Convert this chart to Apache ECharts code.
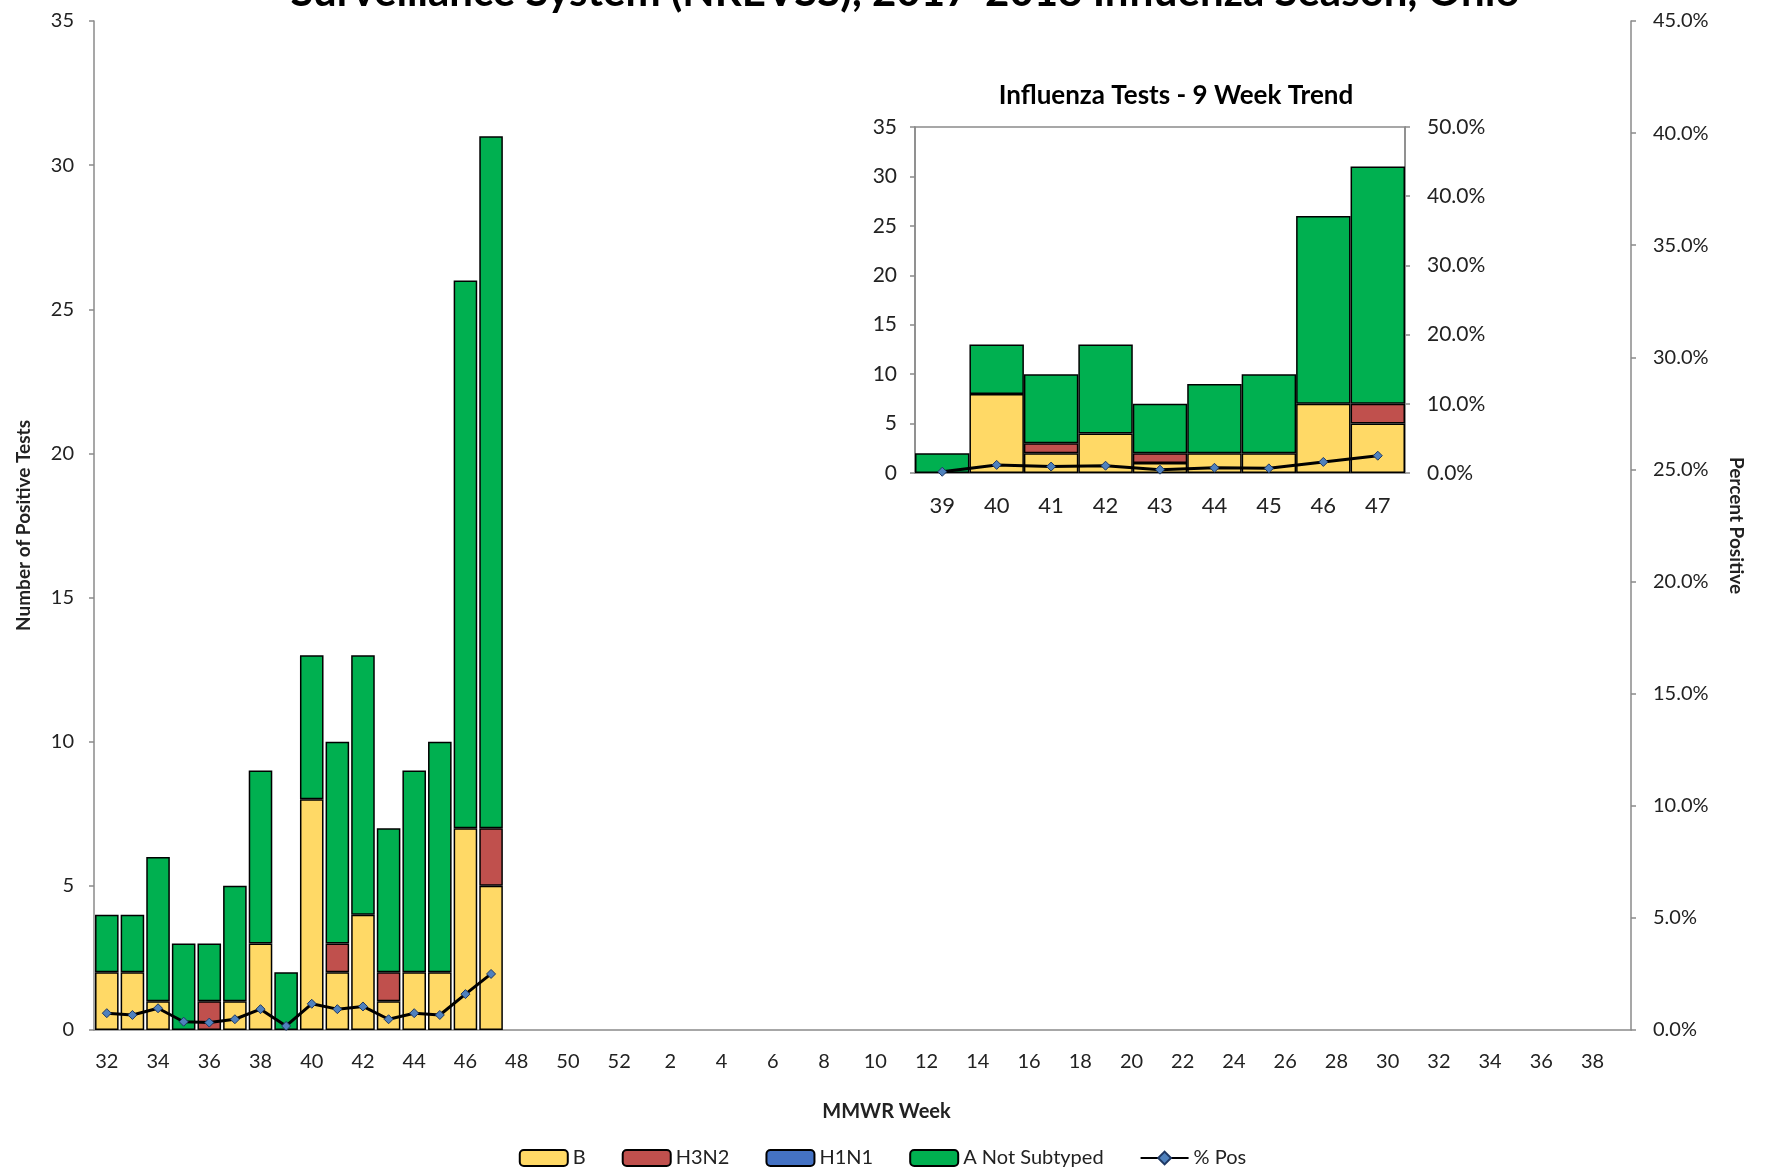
<!DOCTYPE html>
<html>
<head>
<meta charset="utf-8">
<script src="https://cdn.jsdelivr.net/npm/echarts@6/dist/echarts.min.js"></script>
<style>
  html, body { margin: 0; padding: 0; background: #fff; }
  #chart { width: 1765px; height: 1175px; }
</style>
</head>
<body>
<div id="chart"></div>
<script>
// MMWR weeks of the 2017-2018 season
const weeks = ['32','33','34','35','36','37','38','39','40','41','42','43','44','45','46','47','48','49','50','51','52',
  '1','2','3','4','5','6','7','8','9','10','11','12','13','14','15','16','17','18','19','20',
  '21','22','23','24','25','26','27','28','29','30','31','32','33','34','35','36','37','38','39'];

// counts reported so far (weeks 32..47)
const bCounts    = [2, 2, 1, 0, 0, 1, 3, 0, 8, 2, 4, 1, 2, 2, 7, 5];
const h3n2Counts = [0, 0, 0, 0, 1, 0, 0, 0, 0, 1, 0, 1, 0, 0, 0, 2];
const h1n1Counts = [0, 0, 0, 0, 0, 0, 0, 0, 0, 0, 0, 0, 0, 0, 0, 0];
const notSubtyped = [2, 2, 5, 3, 2, 4, 6, 2, 5, 7, 9, 5, 7, 8, 19, 24];
const pctPos     = [0.75, 0.67, 0.97, 0.37, 0.33, 0.48, 0.93, 0.18, 1.17, 0.93, 1.05, 0.48, 0.75, 0.67, 1.6, 2.5];

// 9 week trend = last nine reported weeks
const trendStart = 7;
const trendWeeks = weeks.slice(trendStart, 16);

const colors = { b: '#FFD966', h3n2: '#C0504D', h1n1: '#4472C4', ans: '#00B050' };
const font = 'Lato, "Open Sans", sans-serif';
const axisGray = '#8a8a8a';

// zeros are left out so no empty outline is drawn
function barData(arr, from, to) {
  const out = [];
  for (let i = from; i < to; i++) {
    const v = arr[i];
    out.push(v === undefined || v === 0 ? null : v);
  }
  return out;
}
function lineData(arr, from, to) {
  const out = [];
  for (let i = from; i < to; i++) out.push(arr[i] === undefined ? null : arr[i]);
  return out;
}

const chart = echarts.init(document.getElementById('chart'));

const barStyle = c => ({ color: c, borderColor: '#000', borderWidth: 1.5 });
const lineStyle = { color: '#000', width: 3 };
const markerStyle = { color: '#4F81BD', borderColor: '#1F3864', borderWidth: 1 };

function stackSeries(xi, yi, from, to, stack, gap) {
  return [
    { name: 'B', data: barData(bCounts, from, to), c: colors.b },
    { name: 'H3N2', data: barData(h3n2Counts, from, to), c: colors.h3n2 },
    { name: 'H1N1', data: barData(h1n1Counts, from, to), c: colors.h1n1 },
    { name: 'A Not Subtyped', data: barData(notSubtyped, from, to), c: colors.ans }
  ].map(s => ({
    name: s.name,
    type: 'bar',
    stack: stack,
    xAxisIndex: xi,
    yAxisIndex: yi,
    barCategoryGap: gap,
    itemStyle: barStyle(s.c),
    data: s.data
  }));
}

const n = weeks.length;

chart.setOption({
  animation: false,
  textStyle: { fontFamily: font },
  graphic: [
    {
      type: 'text',
      x: 905, y: 13,
      style: {
        text: 'Surveillance System (NREVSS), 2017-2018 Influenza Season, Ohio',
        font: 'bold 42px ' + font,
        fill: '#000',
        align: 'center',
        verticalAlign: 'bottom'
      }
    },
    {
      type: 'text',
      x: 1176, y: 96,
      style: {
        text: 'Influenza Tests - 9 Week Trend',
        font: 'bold 26px ' + font,
        fill: '#000',
        align: 'center',
        verticalAlign: 'middle'
      }
    }
  ],
  legend: {
    bottom: 2,
    left: 'center',
    itemWidth: 48,
    itemHeight: 16,
    itemGap: 36,
    textStyle: { fontSize: 20, color: '#222', fontFamily: font },
    data: ['B', 'H3N2', 'H1N1', 'A Not Subtyped', '% Pos']
  },
  grid: [
    { left: 94, right: 134, top: 21, bottom: 145 },
    { left: 915, top: 127, width: 490, height: 346, show: true, borderColor: axisGray, borderWidth: 1.5 }
  ],
  xAxis: [
    {
      type: 'category',
      gridIndex: 0,
      data: weeks,
      name: 'MMWR Week',
      nameLocation: 'middle',
      nameGap: 72,
      nameTextStyle: { fontSize: 20, fontWeight: 'bold', color: '#222', padding: [0, 0, 0, 48] },
      axisLine: { lineStyle: { color: axisGray, width: 1.5 } },
      axisTick: { interval: 0, length: 8, lineStyle: { color: axisGray, width: 1.5 } },
      axisLabel: { interval: 1, fontSize: 20, color: '#222', margin: 22 }
    },
    {
      type: 'category',
      gridIndex: 1,
      data: trendWeeks,
      axisLine: { lineStyle: { color: axisGray, width: 1.5 } },
      axisTick: { interval: 0, length: 8, lineStyle: { color: axisGray, width: 1.5 } },
      axisLabel: { interval: 0, fontSize: 22, color: '#222', margin: 22 }
    }
  ],
  yAxis: [
    {
      type: 'value',
      gridIndex: 0,
      min: 0, max: 35, interval: 5,
      name: 'Number of Positive Tests',
      nameLocation: 'middle',
      nameRotate: 90,
      nameGap: 61,
      nameTextStyle: { fontSize: 19, fontWeight: 'bold', color: '#222' },
      axisLine: { show: true, lineStyle: { color: axisGray, width: 1.5 } },
      axisTick: { show: true, length: 5, lineStyle: { color: axisGray, width: 1.5 } },
      axisLabel: { fontSize: 20, color: '#222', margin: 20 },
      splitLine: { show: false }
    },
    {
      type: 'value',
      gridIndex: 0,
      position: 'right',
      min: 0, max: 45, interval: 5,
      name: 'Percent Positive',
      nameLocation: 'middle',
      nameRotate: -90,
      nameGap: 96,
      nameTextStyle: { fontSize: 19, fontWeight: 'bold', color: '#222' },
      axisLine: { show: true, lineStyle: { color: axisGray, width: 1.5 } },
      axisTick: { show: true, length: 5, lineStyle: { color: axisGray, width: 1.5 } },
      axisLabel: { fontSize: 20, color: '#222', margin: 22, formatter: v => v.toFixed(1) + '%' },
      splitLine: { show: false }
    },
    {
      type: 'value',
      gridIndex: 1,
      min: 0, max: 35, interval: 5,
      axisLine: { show: true, lineStyle: { color: axisGray, width: 1.5 } },
      axisTick: { show: true, length: 5, lineStyle: { color: axisGray, width: 1.5 } },
      axisLabel: { fontSize: 21, color: '#222', margin: 18 },
      splitLine: { show: false }
    },
    {
      type: 'value',
      gridIndex: 1,
      position: 'right',
      min: 0, max: 50, interval: 10,
      axisLine: { show: true, lineStyle: { color: axisGray, width: 1.5 } },
      axisTick: { show: true, length: 5, lineStyle: { color: axisGray, width: 1.5 } },
      axisLabel: { fontSize: 21, color: '#222', margin: 22, formatter: v => v.toFixed(1) + '%' },
      splitLine: { show: false }
    }
  ],
  series: [
    ...stackSeries(0, 0, 0, n, 'main', '8%'),
    {
      name: '% Pos',
      type: 'line',
      xAxisIndex: 0,
      yAxisIndex: 1,
      z: 5,
      symbol: 'diamond',
      symbolSize: 9,
      lineStyle: lineStyle,
      itemStyle: markerStyle,
      data: lineData(pctPos, 0, n)
    },
    ...stackSeries(1, 2, trendStart, 16, 'trend', 0),
    {
      name: '% Pos',
      type: 'line',
      xAxisIndex: 1,
      yAxisIndex: 3,
      z: 5,
      symbol: 'diamond',
      symbolSize: 9,
      lineStyle: lineStyle,
      itemStyle: markerStyle,
      data: lineData(pctPos, trendStart, 16)
    }
  ]
});

window.addEventListener('resize', () => chart.resize());
</script>
</body>
</html>
